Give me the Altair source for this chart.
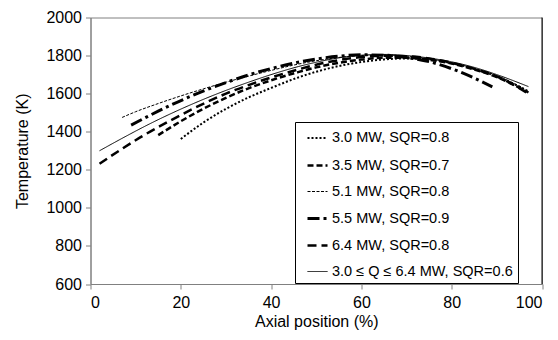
import altair as alt
import pandas as pd

# Series names (legend order)
names = [
    "3.0 MW, SQR=0.8",
    "3.5 MW, SQR=0.7",
    "5.1 MW, SQR=0.8",
    "5.5 MW, SQR=0.9",
    "6.4 MW, SQR=0.8",
    "3.0 ≤ Q ≤ 6.4 MW, SQR=0.6",
]

# Axial position (%) and temperature (K)
x_30 = [20, 25, 30, 35, 40, 46, 50, 55, 60, 65, 70, 75, 80, 85, 90, 97]
t_30 = [1362, 1448, 1520, 1580, 1630, 1685, 1715, 1745, 1766, 1780, 1785, 1779, 1760, 1730, 1690, 1612]

x_35 = [15, 20, 24, 30, 35, 40, 46, 50, 55, 60, 65, 70, 75, 80, 85, 90, 97]
t_35 = [1382, 1455, 1508, 1578, 1628, 1670, 1713, 1738, 1762, 1779, 1788, 1788, 1778, 1758, 1727, 1687, 1606]

x_51 = [7, 10, 15, 20, 25, 30, 35, 40, 46, 50, 55, 60, 65, 70, 75, 80, 85, 90, 96]
t_51 = [1475, 1505, 1548, 1588, 1625, 1660, 1692, 1722, 1755, 1773, 1790, 1800, 1803, 1797, 1783, 1762, 1733, 1695, 1628]

x_55 = [9, 12, 15, 18, 21, 24, 30, 35, 40, 46, 50, 55, 60, 65, 70, 75, 81, 85, 89]
t_55 = [1435, 1472, 1508, 1542, 1574, 1604, 1658, 1698, 1732, 1765, 1782, 1797, 1804, 1802, 1790, 1768, 1722, 1682, 1636]

x_64 = [2, 6, 11, 17, 22, 26, 30, 35, 40, 46, 50, 55, 60, 65, 70, 75, 80, 85, 90, 97]
t_64 = [1232, 1295, 1370, 1450, 1512, 1558, 1600, 1645, 1685, 1727, 1752, 1776, 1792, 1799, 1797, 1785, 1762, 1730, 1690, 1600]

x_all = [2, 8, 13, 19, 24, 30, 35, 40, 46, 50, 55, 60, 65, 70, 75, 80, 85, 90, 97]
t_all = [1300, 1378, 1440, 1508, 1560, 1617, 1660, 1700, 1742, 1765, 1788, 1802, 1806, 1800, 1787, 1767, 1738, 1700, 1637]

x_ticks = [0, 20, 40, 60, 80, 100]
y_ticks = [600, 800, 1000, 1200, 1400, 1600, 1800, 2000]

dashes = [[2, 2], [6, 3], [3, 1.5], [12, 4, 3, 4], [9, 5], [1, 0]]
widths = [2, 2.5, 1, 3, 2.5, 1]

rows = []
for name, xs, ts in zip(names, [x_30, x_35, x_51, x_55, x_64, x_all],
                        [t_30, t_35, t_51, t_55, t_64, t_all]):
    for xv, tv in zip(xs, ts):
        rows.append({"series": name, "x": xv, "t": tv})
df = pd.DataFrame(rows)

W, H = 451.5, 266.5
FONT = "Liberation Sans"

legend = alt.Legend(title=None, labelExpr="datum.label + '\u00a0\u00a0\u00a0'")

lines = alt.Chart(df).mark_line(color="black", interpolate="monotone").encode(
    x=alt.X("x:Q", title="Axial position (%)",
            scale=alt.Scale(domain=[0, 100], nice=False),
            axis=alt.Axis(values=x_ticks, format="d", grid=False, tickSize=5, labelPadding=5,
                          titlePadding=3, domainColor="#808080", tickColor="#808080")),
    y=alt.Y("t:Q", title="Temperature (K)",
            scale=alt.Scale(domain=[600, 2000], nice=False),
            axis=alt.Axis(values=y_ticks, format="d", grid=False, tickSize=5, labelPadding=4,
                          titlePadding=15, domainColor="#808080", tickColor="#808080")),
    strokeDash=alt.StrokeDash("series:N", sort=names, legend=legend,
                              scale=alt.Scale(domain=names, range=dashes)),
    strokeWidth=alt.StrokeWidth("series:N", sort=names, legend=legend,
                                scale=alt.Scale(type="ordinal", domain=names, range=widths)),
    detail="series:N",
)

right_edge = alt.Chart(pd.DataFrame({"v": [0]})).mark_rule(color="black", strokeWidth=1).encode(
    x=alt.value(W), y=alt.value(0), y2=alt.value(H)
)

chart = alt.layer(lines, right_edge).properties(
    width=W, height=H,
    padding={"left": 82.5, "top": 9.5, "right": 8, "bottom": 48},
    autosize=alt.AutoSizeParams(type="none"),
).configure_view(
    stroke="#808080", strokeWidth=1
).configure_axis(
    labelFont=FONT, titleFont=FONT, labelFontSize=16, titleFontSize=16,
    labelColor="black", titleColor="black", titleFontWeight="normal",
).configure_legend(
    orient="none", legendX=204.5, legendY=104.5,
    strokeColor="black", fillColor="white", padding=5, rowPadding=9,
    symbolType="stroke", symbolSize=400, symbolStrokeColor="black",
    symbolOffset=6, labelOffset=3,
    labelFont=FONT, labelFontSize=14.5, labelColor="black", labelLimit=400,
)

chart.save("out.html", embed_options={"renderer": "svg", "actions": False})
